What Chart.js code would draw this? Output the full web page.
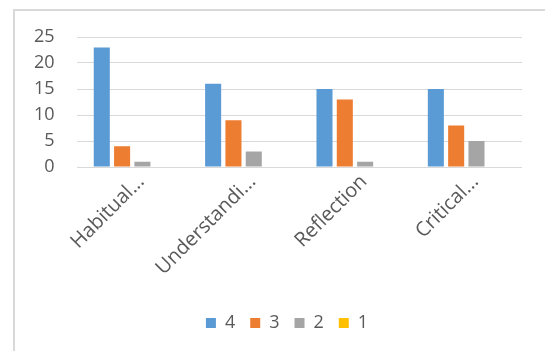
<!DOCTYPE html>
<html>

<head>
    <meta charset="utf-8" />
    <title></title>
    <style>
        body { margin: 0; background: #fff; overflow: hidden; }
        /* marco gris del area del grafico (se sale por la derecha y abajo) */
        .marco { position: absolute; left: 13px; top: 9px; width: 700px; height: 500px; border: 2px solid #d9d9d9; }
        .contenedor { position: absolute; left: 0; top: 0; width: 545px; height: 351px; }
    </style>
</head>

<body>

    <div class="marco"></div>
    <div class="contenedor">
        <canvas id="chart"></canvas>
    </div>

    <script src="https://cdn.jsdelivr.net/npm/chart.js"></script>
    <script type="text/javascript">

        // Datos del grafico
        const categorias = ['Habitual...', 'Understandi...', 'Reflection', 'Critical...'];
        const nivel4 = [23, 16, 15, 15];
        const nivel3 = [4, 9, 13, 8];
        const nivel2 = [1, 3, 1, 5];
        const nivel1 = [0, 0, 0, 0];
        const ticksY = [0, 5, 10, 15, 20, 25];

        const gris = '#595959';
        const fuente = { family: '"Open Sans", sans-serif', size: 18 };
        const fuenteX = { family: '"Open Sans", sans-serif', size: 20 };

        const data = {
            labels: categorias,
            datasets: [
                { label: '4', data: nivel4, backgroundColor: '#5B9BD5' },
                { label: '3', data: nivel3, backgroundColor: '#ED7D31' },
                { label: '2', data: nivel2, backgroundColor: '#A5A5A5' },
                { label: '1', data: nivel1, backgroundColor: '#FFC000' }
            ]
        };

        // Mueve la leyenda un poco a la derecha (centrada en el marco)
        const moverLeyenda = {
            id: 'moverLeyenda',
            afterLayout: function (chart) {
                chart.legend.left += 20;
                chart.legend.right += 20;
            }
        };

        const ctx = document.getElementById('chart').getContext('2d');

        let myChart = new Chart(ctx, {
            type: 'bar',
            data: data,
            plugins: [moverLeyenda],
            options: {
                responsive: true,
                maintainAspectRatio: false,
                animation: false,
                categoryPercentage: 0.73,
                barPercentage: 0.79,
                layout: {
                    padding: { left: 12, right: 23, top: 37, bottom: 9 }
                },
                plugins: {
                    tooltip: { enabled: false },
                    legend: {
                        position: 'bottom',
                        labels: {
                            boxWidth: 10,
                            boxHeight: 10,
                            padding: 15,
                            color: gris,
                            font: fuente
                        }
                    }
                },
                scales: {
                    x: {
                        grid: { display: false, drawTicks: false },
                        border: { display: false },
                        ticks: {
                            color: gris,
                            font: fuenteX,
                            minRotation: 45,
                            maxRotation: 45,
                            padding: 3,
                            labelOffset: 9
                        },
                        // alto fijo del eje x y sin relleno lateral por las etiquetas giradas
                        afterFit: function (scale) {
                            scale.paddingLeft = 0;
                            scale.paddingRight = 0;
                            scale.height = 132;
                        }
                    },
                    y: {
                        min: ticksY[0],
                        max: ticksY[ticksY.length - 1],
                        grid: { color: '#d9d9d9', lineWidth: 1, drawTicks: false },
                        border: { display: false },
                        ticks: {
                            stepSize: ticksY[1] - ticksY[0],
                            color: gris,
                            font: fuente,
                            padding: 22
                        }
                    }
                }
            }
        });

    </script>

</body>

</html>
